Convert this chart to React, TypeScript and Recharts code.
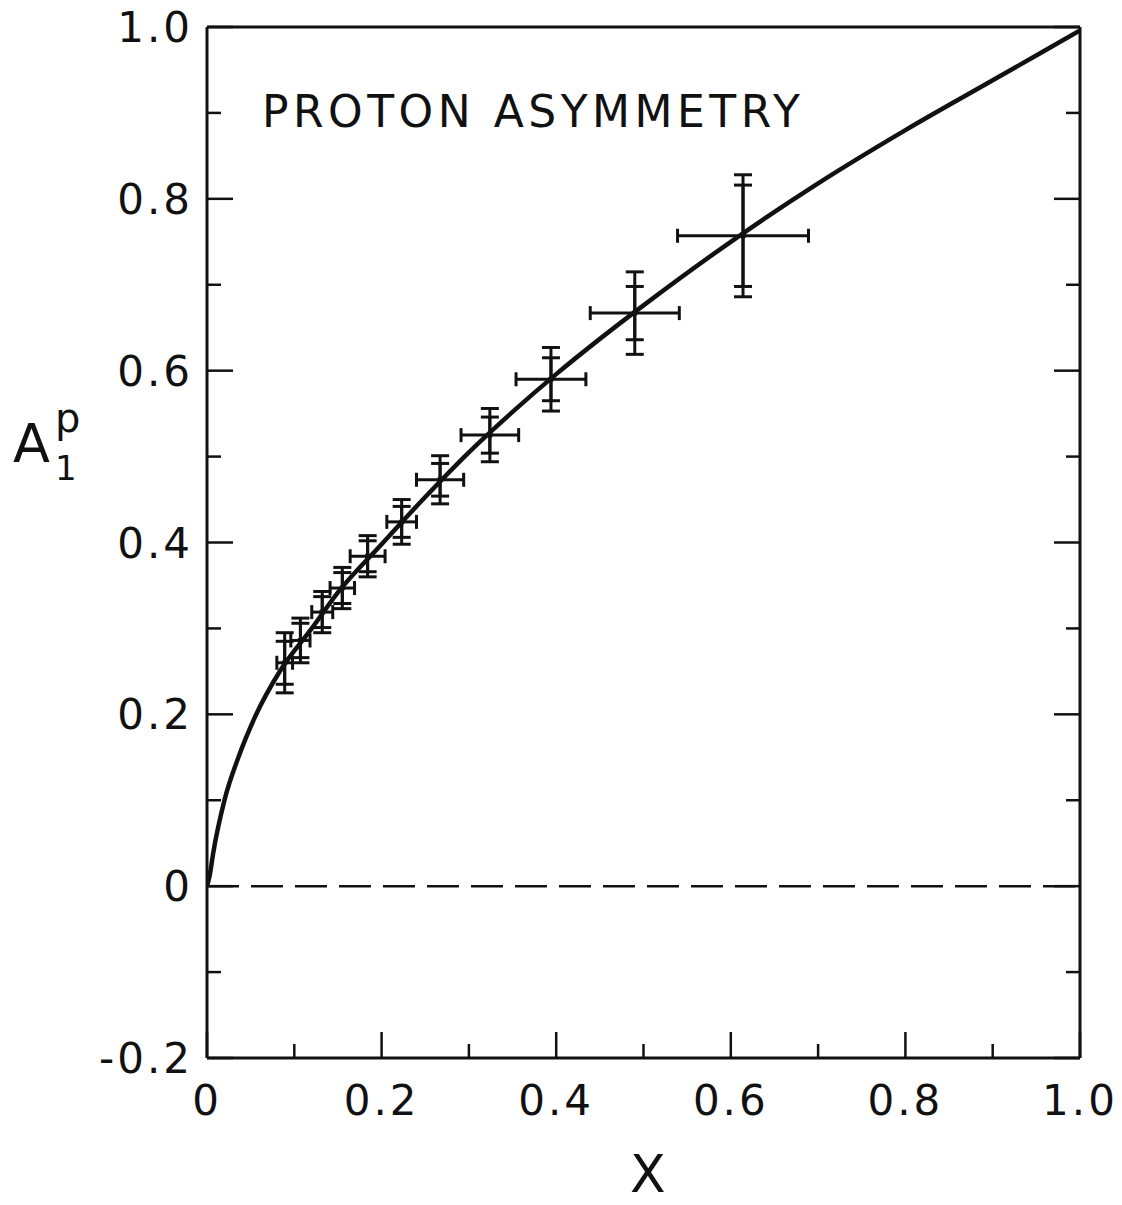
import React from 'react';
import { ComposedChart, XAxis, YAxis, Line, Scatter, ErrorBar, ReferenceLine, Label } from 'recharts';

// ---- data ----
const pointX = [0.089, 0.107, 0.132, 0.155, 0.184, 0.223, 0.267, 0.324, 0.394, 0.49, 0.614];
const pointY = [0.26, 0.286, 0.319, 0.347, 0.384, 0.424, 0.473, 0.525, 0.59, 0.667, 0.757];
const pointXErr = [0.009, 0.011, 0.012, 0.014, 0.02, 0.017, 0.027, 0.033, 0.04, 0.051, 0.075];
const pointYErrTotal = [0.035, 0.026, 0.024, 0.024, 0.024, 0.026, 0.028, 0.031, 0.037, 0.048, 0.071];
const pointYErrStat = [0.025, 0.02, 0.018, 0.018, 0.018, 0.018, 0.019, 0.021, 0.025, 0.031, 0.059];

const curveX = [0, 0.003, 0.007, 0.02, 0.036, 0.055, 0.084, 0.12, 0.15, 0.2, 0.25, 0.3, 0.35, 0.4, 0.45, 0.5, 0.6, 0.7, 0.8, 0.9, 1.0];
const curveY = [0, 0.012, 0.038, 0.1, 0.15, 0.197, 0.251, 0.3, 0.342, 0.398, 0.453, 0.505, 0.552, 0.596, 0.637, 0.676, 0.75, 0.818, 0.88, 0.938, 0.996];

const xTicks = [0, 0.1, 0.2, 0.3, 0.4, 0.5, 0.6, 0.7, 0.8, 0.9, 1.0];
const xMajorTicks = [0, 0.2, 0.4, 0.6, 0.8, 1.0];
const xTickLabels = ['0', '0.2', '0.4', '0.6', '0.8', '1.0'];
const yTicks = [-0.2, -0.1, 0, 0.1, 0.2, 0.3, 0.4, 0.5, 0.6, 0.7, 0.8, 0.9, 1.0];
const yMajorTicks = [-0.2, 0, 0.2, 0.4, 0.6, 0.8, 1.0];
const yTickLabels = ['-0.2', '0', '0.2', '0.4', '0.6', '0.8', '1.0'];

const titleText = 'PROTON ASYMMETRY';
const xLabelText = 'X';

const points = pointX.map((x, i) => ({
  x,
  y: pointY[i],
  ex: pointXErr[i],
  eyTot: pointYErrTotal[i],
  eyStat: pointYErrStat[i],
}));
const curve = curveX.map((x, i) => ({ x, y: curveY[i] }));

const FONT = '"DejaVu Sans", sans-serif';
const INK = '#111';
const MAJOR = 26;
const MINOR = 14;

const isMajor = (list: number[], v: number) => list.some((m) => Math.abs(m - v) < 1e-6);
const labelOf = (list: number[], labels: string[], v: number) => {
  const i = list.findIndex((m) => Math.abs(m - v) < 1e-6);
  return i >= 0 ? labels[i] : null;
};

const BottomTick = (props: any) => {
  const { x, y, payload } = props;
  const v = payload.value;
  const len = isMajor(xMajorTicks, v) ? MAJOR : MINOR;
  const lab = labelOf(xMajorTicks, xTickLabels, v);
  return (
    <g>
      <line x1={x} y1={y} x2={x} y2={y - len} stroke={INK} strokeWidth={2.5} />
      {lab && (
        <text x={x} y={y + 57} textAnchor="middle" fontFamily={FONT} fontSize={42} fill={INK} letterSpacing={3}>
          {lab}
        </text>
      )}
    </g>
  );
};

const TopTick = (props: any) => {
  const { x, y, payload } = props;
  const len = isMajor(xMajorTicks, payload.value) ? MAJOR : MINOR;
  return <line x1={x} y1={y} x2={x} y2={y + len} stroke={INK} strokeWidth={2.5} />;
};

const LeftTick = (props: any) => {
  const { x, y, payload } = props;
  const v = payload.value;
  const len = isMajor(yMajorTicks, v) ? MAJOR : MINOR;
  const lab = labelOf(yMajorTicks, yTickLabels, v);
  return (
    <g>
      <line x1={x} y1={y} x2={x + len} y2={y} stroke={INK} strokeWidth={2.5} />
      {lab && (
        <text x={x - 14} y={y + 15} textAnchor="end" fontFamily={FONT} fontSize={42} fill={INK} letterSpacing={3}>
          {lab}
        </text>
      )}
    </g>
  );
};

const RightTick = (props: any) => {
  const { x, y, payload } = props;
  const len = isMajor(yMajorTicks, payload.value) ? MAJOR : MINOR;
  return <line x1={x} y1={y} x2={x - len} y2={y} stroke={INK} strokeWidth={2.5} />;
};

const Dot = (props: any) => {
  const { cx, cy } = props;
  return <circle cx={cx} cy={cy} r={3} fill={INK} />;
};

const YLabel = (props: any) => {
  const vb = props.viewBox || { x: 147, y: 27 };
  const left = vb.x - 134;
  return (
    <g fontFamily={FONT} fill={INK}>
      <text x={left} y={462} fontSize={54}>A</text>
      <text x={left + 42} y={432} fontSize={40}>p</text>
      <text x={left + 42} y={480} fontSize={34}>1</text>
    </g>
  );
};

const TitleLabel = (props: any) => {
  const vb = props.viewBox || { x: 207, y: 27 };
  return (
    <text x={vb.x + 55} y={127} fontFamily={FONT} fontSize={44} fill={INK} letterSpacing={4.5}>
      {titleText}
    </text>
  );
};

export default function App() {
  return (
    <div style={{ width: 1122, height: 1205, background: '#fff', marginTop: -8, marginLeft: -8 }}>
      <ComposedChart
        width={1122}
        height={1205}
        margin={{ top: 17, right: 32, bottom: 87, left: 147 }}
      >
        <XAxis
          xAxisId={0}
          type="number"
          dataKey="x"
          domain={[0, 1]}
          ticks={xTicks}
          interval={0}
          tickSize={0}
          tickMargin={0}
          tickLine={false}
          tick={<BottomTick />}
          axisLine={{ stroke: INK, strokeWidth: 3 }}
          height={60}
          allowDataOverflow
        >
          <Label
            value={xLabelText}
            position="bottom"
            offset={0}
            content={(p: any) => {
              const vb = p.viewBox;
              return (
                <text x={vb.x + vb.width * 0.505} y={1192} textAnchor="middle" fontFamily={FONT} fontSize={52} fill={INK}>
                  {xLabelText}
                </text>
              );
            }}
          />
        </XAxis>
        <XAxis
          xAxisId="top"
          orientation="top"
          type="number"
          domain={[0, 1]}
          ticks={xTicks}
          interval={0}
          tickSize={0}
          tickMargin={0}
          tickLine={false}
          tick={<TopTick />}
          axisLine={{ stroke: INK, strokeWidth: 3 }}
          height={10}
          allowDataOverflow
        >
          <Label content={<TitleLabel />} />
        </XAxis>
        <YAxis
          yAxisId={0}
          type="number"
          domain={[-0.2, 1]}
          ticks={yTicks}
          interval={0}
          tickSize={0}
          tickMargin={0}
          tickLine={false}
          tick={<LeftTick />}
          axisLine={{ stroke: INK, strokeWidth: 3 }}
          width={60}
          allowDataOverflow
        >
          <Label content={<YLabel />} />
        </YAxis>
        <YAxis
          yAxisId="right"
          orientation="right"
          type="number"
          domain={[-0.2, 1]}
          ticks={yTicks}
          interval={0}
          tickSize={0}
          tickMargin={0}
          tickLine={false}
          tick={<RightTick />}
          axisLine={{ stroke: INK, strokeWidth: 3 }}
          width={10}
          allowDataOverflow
        />
        <ReferenceLine y={0} stroke={INK} strokeWidth={2.5} strokeDasharray="32 12" />
        <Line
          data={curve}
          dataKey="y"
          type="monotone"
          stroke={INK}
          strokeWidth={4.5}
          dot={false}
          activeDot={false}
          isAnimationActive={false}
        />
        <Scatter data={points} dataKey="y" fill={INK} shape={<Dot />} isAnimationActive={false}>
          <ErrorBar dataKey="eyTot" direction="y" width={9} stroke={INK} strokeWidth={3} />
          <ErrorBar dataKey="eyStat" direction="y" width={9} stroke={INK} strokeWidth={3} />
          <ErrorBar dataKey="ex" direction="x" width={7} stroke={INK} strokeWidth={3} />
        </Scatter>
      </ComposedChart>
    </div>
  );
}
